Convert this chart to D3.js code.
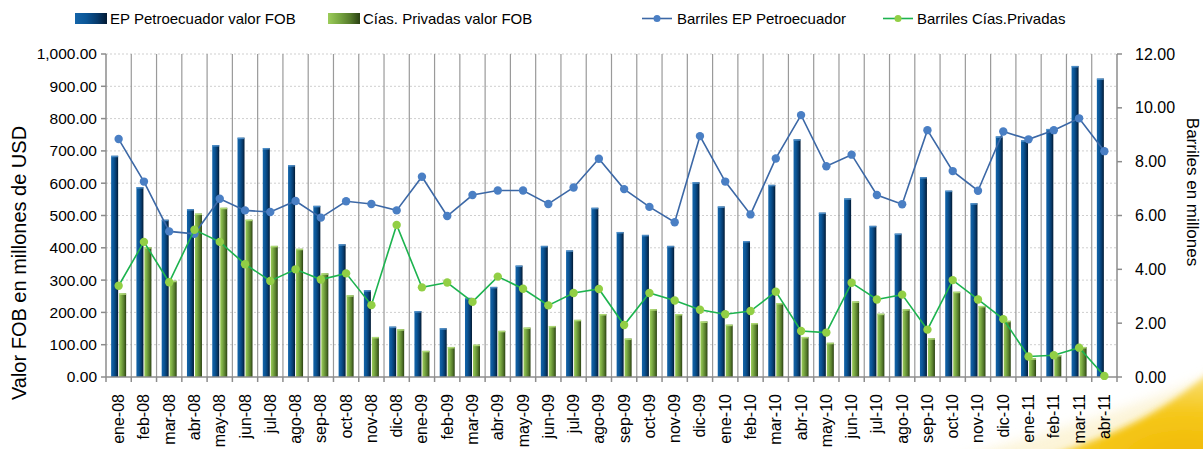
<!DOCTYPE html>
<html><head><meta charset="utf-8">
<script src="https://cdn.jsdelivr.net/npm/d3@7/dist/d3.min.js"></script>
<style>
html,body{margin:0;padding:0;background:#fff;}
svg{display:block;}
.narrow{font-family:"Liberation Sans Narrow","Arial Narrow","Liberation Sans",sans-serif;}
.sans{font-family:"Liberation Sans",Arial,sans-serif;}
</style>
</head><body>
<svg id="c" width="1203" height="449"></svg>
<script>
const months = ["ene-08","feb-08","mar-08","abr-08","may-08","jun-08","jul-08","ago-08","sep-08","oct-08","nov-08","dic-08",
"ene-09","feb-09","mar-09","abr-09","may-09","jun-09","jul-09","ago-09","sep-09","oct-09","nov-09","dic-09",
"ene-10","feb-10","mar-10","abr-10","may-10","jun-10","jul-10","ago-10","sep-10","oct-10","nov-10","dic-10",
"ene-11","feb-11","mar-11","abr-11"];
const epFOB = [685,588,487,520,718,741,709,656,530,411,269,156,204,151,245,279,345,406,392,524,449,440,406,603,528,421,595,736,509,553,468,444,619,577,538,745,733,768,963,924];
const privFOB = [259,402,298,506,524,487,406,397,321,253,124,148,81,93,100,143,153,158,177,195,119,210,195,172,162,167,229,124,106,234,196,210,120,264,220,174,58,68,93,0];
const epBarr = [8.84,7.26,5.41,5.32,6.62,6.19,6.13,6.54,5.92,6.53,6.43,6.19,7.44,5.98,6.76,6.93,6.93,6.43,7.04,8.11,6.98,6.32,5.75,8.95,7.26,6.04,8.12,9.73,7.83,8.26,6.76,6.42,9.17,7.65,6.92,9.12,8.83,9.17,9.61,8.39];
const privBarr = [3.39,5.02,3.52,5.47,5.02,4.19,3.57,4.00,3.62,3.85,2.67,5.65,3.33,3.51,2.79,3.73,3.28,2.66,3.12,3.27,1.93,3.12,2.84,2.50,2.33,2.45,3.17,1.71,1.65,3.50,2.88,3.06,1.76,3.60,2.88,2.15,0.76,0.81,1.09,0.04];
const leftTicks = [0,100,200,300,400,500,600,700,800,900,1000];
const rightTicks = [0,2,4,6,8,10,12];
const legendLabels = ["EP Petroecuador  valor FOB","Cías. Privadas valor FOB","Barriles EP Petroecuador","Barriles Cías.Privadas"];

const svg = d3.select("#c");
const L=106, R=1117, T=54, B=377;
const x = d3.scaleBand().domain(months).range([L,R]).padding(0);
const yL = d3.scaleLinear().domain([0,1000]).range([B,T]);
const yR = d3.scaleLinear().domain([0,12]).range([B,T]);
const fmt = d3.format(",.2f");

const defs = svg.append("defs");
function grad(id, stops){
  const g = defs.append("linearGradient").attr("id",id).attr("x1","0").attr("x2","1").attr("y1","0").attr("y2","0");
  stops.forEach(s=>g.append("stop").attr("offset",s[0]).attr("stop-color",s[1]));
}
grad("gBlue",[["0%","#1464a8"],["35%","#0b5697"],["70%","#073a6b"],["100%","#021a33"]]);
grad("gGreen",[["0%","#9ccc5a"],["35%","#79a842"],["70%","#557a2b"],["100%","#2a4012"]]);
const rg = defs.append("radialGradient").attr("id","gSun").attr("cx","0.85").attr("cy","0.95").attr("r","0.9");
rg.append("stop").attr("offset","0%").attr("stop-color","#f1b800");
rg.append("stop").attr("offset","55%").attr("stop-color","#f5c81c");
rg.append("stop").attr("offset","100%").attr("stop-color","#fae07a");
defs.append("filter").attr("id","blur").append("feGaussianBlur").attr("stdDeviation","3");
defs.append("filter").attr("id","blur2").append("feGaussianBlur").attr("stdDeviation","6");

// decorative swoosh bottom-right
svg.append("path")
  .attr("d","M 930 470 C 990 445, 1080 430, 1220 372 L 1220 470 Z")
  .attr("fill","#fbf0c8").attr("filter","url(#blur2)").attr("opacity",0.7);
svg.append("path")
  .attr("d","M 1015 465 C 1080 448, 1150 425, 1215 368 L 1215 465 Z")
  .attr("fill","url(#gSun)").attr("filter","url(#blur)");

// horizontal dotted gridlines
svg.append("g").selectAll("line").data(leftTicks.filter(d=>d>0)).join("line")
  .attr("x1",L).attr("x2",R).attr("y1",d=>yL(d)).attr("y2",d=>yL(d))
  .attr("stroke","#cfcfcf").attr("stroke-width",1).attr("stroke-dasharray","2,2");

// vertical gridlines at category boundaries
const bounds = months.map(m=>x(m)).concat([R]);
svg.append("g").selectAll("line").data(bounds.slice(1,-1)).join("line")
  .attr("x1",d=>d).attr("x2",d=>d).attr("y1",T).attr("y2",B)
  .attr("stroke","#9a9a9a").attr("stroke-width",1.2);

// bars
const bw = 7;
const bars = svg.append("g");
bars.selectAll("rect.ep").data(months).join("rect").attr("class","ep")
  .attr("x",d=>x(d)+x.bandwidth()/2-bw-0.5).attr("width",bw)
  .attr("y",(d,i)=>yL(epFOB[i])).attr("height",(d,i)=>B-yL(epFOB[i]))
  .attr("fill","url(#gBlue)");
bars.selectAll("rect.epcap").data(months).join("rect").attr("class","epcap")
  .attr("x",d=>x(d)+x.bandwidth()/2-bw-0.5).attr("width",bw)
  .attr("y",(d,i)=>yL(epFOB[i])).attr("height",(d,i)=>epFOB[i]>0?1.5:0)
  .attr("fill","#5b9bd5").attr("opacity",0.8);
bars.selectAll("rect.pr").data(months).join("rect").attr("class","pr")
  .attr("x",d=>x(d)+x.bandwidth()/2+0.5).attr("width",bw)
  .attr("y",(d,i)=>yL(privFOB[i])).attr("height",(d,i)=>B-yL(privFOB[i]))
  .attr("fill","url(#gGreen)");
bars.selectAll("rect.prcap").data(months).join("rect").attr("class","prcap")
  .attr("x",d=>x(d)+x.bandwidth()/2+0.5).attr("width",bw)
  .attr("y",(d,i)=>yL(privFOB[i])).attr("height",(d,i)=>privFOB[i]>0?1.5:0)
  .attr("fill","#b5e07a").attr("opacity",0.9);

// axes lines
const axisColor = "#8c8c8c";
const ax = svg.append("g").attr("stroke",axisColor).attr("stroke-width",1.5);
ax.append("line").attr("x1",L).attr("x2",L).attr("y1",T).attr("y2",B);
ax.append("line").attr("x1",R).attr("x2",R).attr("y1",T).attr("y2",B);
ax.append("line").attr("x1",L).attr("x2",R).attr("y1",B).attr("y2",B);
ax.selectAll("line.lt").data(leftTicks).join("line").attr("class","lt")
  .attr("x1",L-5).attr("x2",L).attr("y1",d=>yL(d)).attr("y2",d=>yL(d));
ax.selectAll("line.rt").data(rightTicks).join("line").attr("class","rt")
  .attr("x1",R).attr("x2",R+5).attr("y1",d=>yR(d)).attr("y2",d=>yR(d));
ax.selectAll("line.bt").data(bounds).join("line").attr("class","bt")
  .attr("x1",d=>d).attr("x2",d=>d).attr("y1",B).attr("y2",B+5);

// lines
const cx = d=>x(d)+x.bandwidth()/2;
const lineEP = d3.line().x((d,i)=>cx(months[i])).y(d=>yR(d));
svg.append("path").datum(epBarr).attr("d",lineEP).attr("fill","none").attr("stroke","#3c68a6").attr("stroke-width",1.6);
svg.append("g").selectAll("circle").data(epBarr).join("circle")
  .attr("cx",(d,i)=>cx(months[i])).attr("cy",d=>yR(d)).attr("r",4.2).attr("fill","#4a7fc4");
svg.append("path").datum(privBarr).attr("d",lineEP).attr("fill","none").attr("stroke","#1db34f").attr("stroke-width",1.6);
svg.append("g").selectAll("circle").data(privBarr).join("circle")
  .attr("cx",(d,i)=>cx(months[i])).attr("cy",d=>yR(d)).attr("r",4.2).attr("fill","#92cf45");

// tick labels
svg.append("g").attr("class","sans").attr("font-size","15.5px").attr("fill","#000")
  .selectAll("text").data(leftTicks).join("text")
  .attr("x",97).attr("y",d=>yL(d)).attr("dy","0.35em").attr("text-anchor","end").text(d=>fmt(d));
svg.append("g").attr("class","sans").attr("font-size","16px").attr("fill","#000")
  .selectAll("text").data(rightTicks).join("text")
  .attr("x",1135).attr("y",d=>yR(d)).attr("dy","0.35em").attr("text-anchor","start").text(d=>fmt(d));
svg.append("g").attr("class","narrow").attr("font-size","16px").attr("fill","#000")
  .selectAll("text").data(months).join("text")
  .attr("transform",d=>`translate(${cx(d)+5.5},394) rotate(-90)`).attr("text-anchor","end").text(d=>d);

// axis titles
svg.append("text").attr("class","sans").attr("font-size","20px")
  .attr("transform","translate(26,263) rotate(-90)").attr("text-anchor","middle").text("Valor FOB en millones de USD");
svg.append("text").attr("class","sans").attr("font-size","17px")
  .attr("transform","translate(1187,192) rotate(90)").attr("text-anchor","middle").text("Barriles en millones");

// legend
const lg = svg.append("g").attr("class","narrow").attr("font-size","15px");
lg.append("rect").attr("x",75).attr("y",13).attr("width",32).attr("height",11).attr("fill","url(#gBlue)");
lg.append("text").attr("x",110).attr("y",24).text(legendLabels[0]);
lg.append("rect").attr("x",328).attr("y",13).attr("width",32).attr("height",11).attr("fill","url(#gGreen)");
lg.append("text").attr("x",363).attr("y",24).text(legendLabels[1]);
lg.append("line").attr("x1",642).attr("x2",672).attr("y1",18.5).attr("y2",18.5).attr("stroke","#3c68a6").attr("stroke-width",1.6);
lg.append("circle").attr("cx",657).attr("cy",18.5).attr("r",3.5).attr("fill","#4a7fc4");
lg.append("text").attr("x",677).attr("y",24).text(legendLabels[2]);
lg.append("line").attr("x1",883).attr("x2",913).attr("y1",18.5).attr("y2",18.5).attr("stroke","#1db34f").attr("stroke-width",1.6);
lg.append("circle").attr("cx",898).attr("cy",18.5).attr("r",3.5).attr("fill","#92cf45");
lg.append("text").attr("x",917).attr("y",24).text(legendLabels[3]);
</script>
</body></html>
